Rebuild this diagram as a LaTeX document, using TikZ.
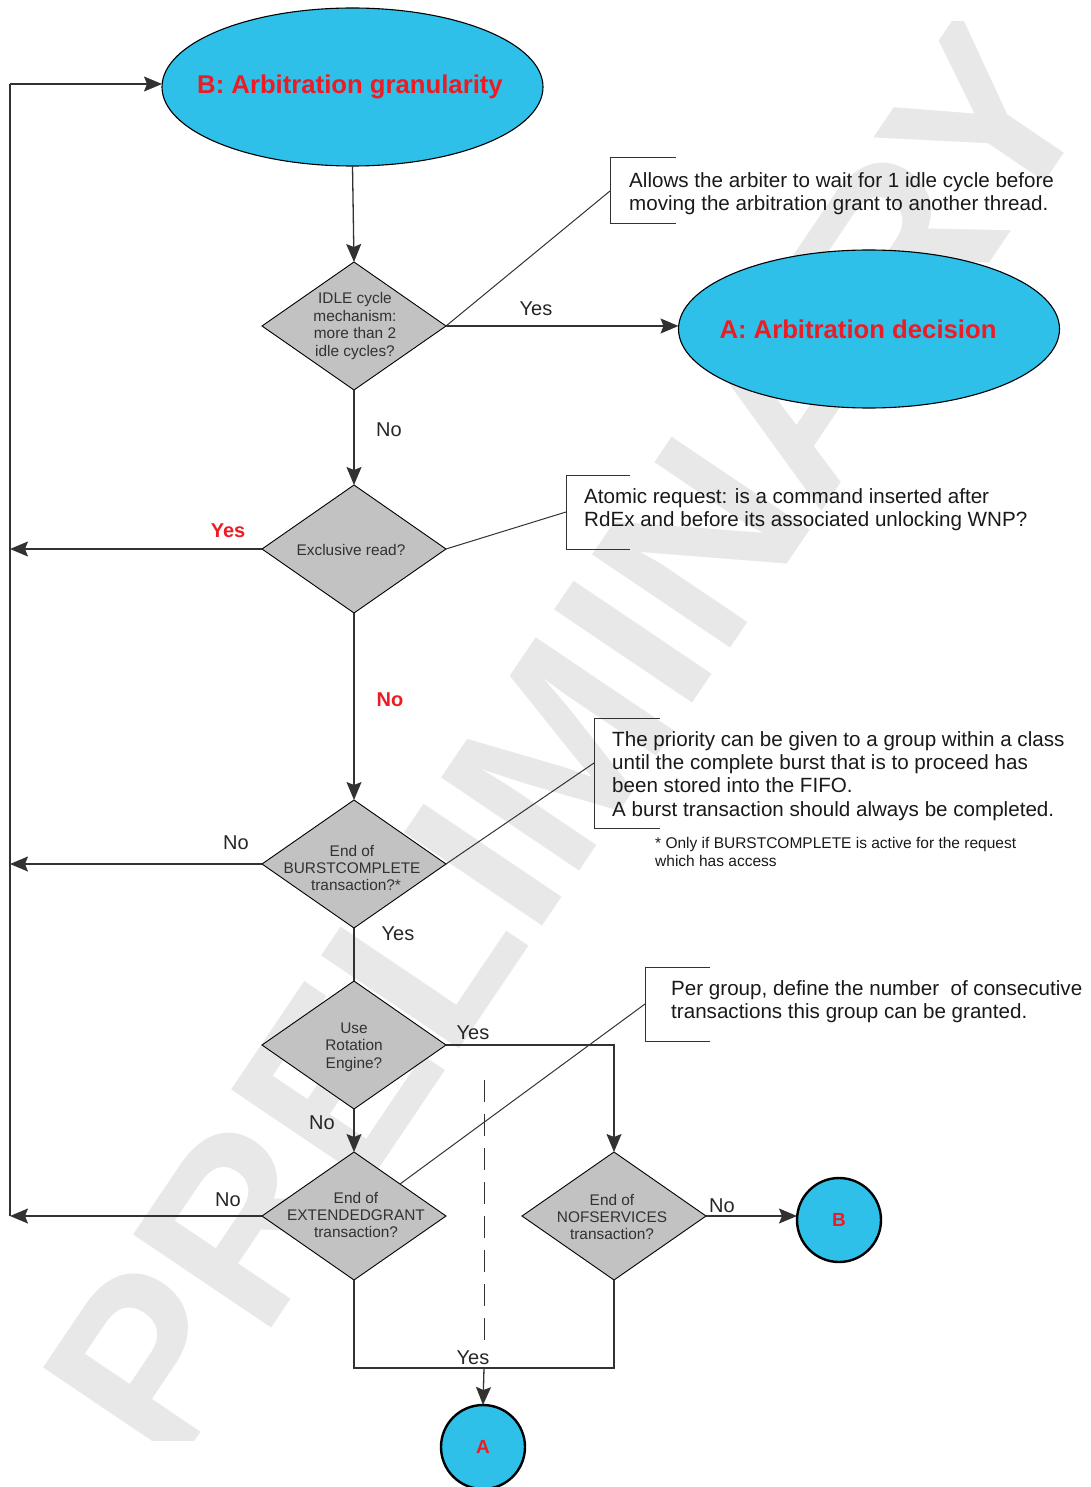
\documentclass[tikz,border=0pt]{standalone}
\usepackage{fontspec}
\setmainfont{Liberation Sans}
\usetikzlibrary{shapes.geometric,arrows.meta}
\definecolor{cyanfill}{RGB}{46,192,232}
\definecolor{redtxt}{RGB}{237,28,36}
\definecolor{dfill}{RGB}{194,194,194}
\definecolor{lin}{RGB}{50,50,50}
\definecolor{wm}{RGB}{232,232,232}
\definecolor{dtxt}{RGB}{50,50,50}
\begin{document}
\begin{tikzpicture}[x=1pt,y=-1pt,
  conn/.style={draw=lin,line width=1.3pt},
  arr/.style={conn,-{Stealth[length=18pt,width=15pt,inset=3pt]}},
  dec/.style={diamond,draw=black,line width=0.9pt,fill=dfill,minimum width=184pt,minimum height=128pt,inner sep=0pt,outer sep=0pt},
  dtext/.style={align=center,text=dtxt,font=\fontsize{15.4}{17.4}\selectfont,inner sep=0pt},
  bigell/.style={ellipse,draw=black,line width=1.1pt,fill=cyanfill,minimum width=381pt,minimum height=158pt,inner sep=0pt,outer sep=0pt},
  elltext/.style={text=redtxt,font=\fontsize{25.7}{30}\selectfont\bfseries,inner sep=0pt},
  conncirc/.style={circle,draw=black,line width=2.4pt,fill=cyanfill,minimum size=84pt,inner sep=0pt,outer sep=0pt,text=redtxt,font=\fontsize{19}{22}\selectfont\bfseries},
  lbl/.style={font=\fontsize{20}{22}\selectfont,text=black!85,inner sep=0pt},
  rlbl/.style={font=\fontsize{20}{22}\selectfont\bfseries,text=redtxt,inner sep=0pt},
  note/.style={align=left,anchor=west,font=\fontsize{20.6}{23.2}\selectfont,text=black!90,inner sep=0pt},
  brk/.style={draw=lin,line width=1pt}
]
\useasboundingbox (0,0) rectangle (1090,1487);
% watermark
\begin{scope}
\clip (41,22) rectangle (1063,1440);
\node[rotate=56,text=wm,font=\fontsize{242}{242}\selectfont\bfseries,inner sep=0pt] (wmk) at (567,741) {PRELIMINARY};
\end{scope}

% terminals
\node[bigell] (B) at (352.5,87) {};
\node[elltext] (Bt) at (350,87) {B: Arbitration granularity};
\node[bigell] (A) at (869,329) {};
\node[elltext] (At) at (858,329) {A: Arbitration decision};
\node[conncirc] (cB) at (839,1220) {B};
\node[conncirc] (cA) at (483,1447) {A};

% decisions
\node[dec] (idle) at (354,326) {};
\node[dtext] (idlet) at (355,326) {IDLE cycle\\mechanism:\\more than 2\\idle cycles?};
\node[dec] (excl) at (354,549) {};
\node[dtext] (exclt) at (351,550) {Exclusive read?};
\node[dec] (burst) at (354,864) {};
\node[dtext] (burstt) at (352,868) {End of\\BURSTCOMPLETE\\\hspace*{8pt}transaction?*};
\node[dec] (rot) at (354,1045) {};
\node[dtext] (rott) at (354,1047) {Use\\Rotation\\Engine?};
\node[dec] (ext) at (354,1216) {};
\node[dtext] (extt) at (356,1215) {End of\\EXTENDEDGRANT\\transaction?};
\node[dec] (nof) at (614,1216) {};
\node[dtext] (noft) at (612,1217) {End of\\NOFSERVICES\\transaction?};

% coordinates
\coordinate (LT) at (10,84);
\coordinate (LB) at (10,1216);
\coordinate (bl) at (354,1368);
\coordinate (br) at (614,1368);
\coordinate (bm) at (484,1368);
\coordinate (dtop) at (484,1080);
\coordinate (dbot) at (484,1345);

% main flow
\draw[arr] (B.south) -- (idle.north);
\draw[arr] (idle.east) -- (idle.east -| A.west);
\draw[arr] (idle.south) -- (excl.north);
\draw[arr] (excl.south) -- (burst.north);
\draw[conn] (burst.south) -- (rot.north);
\draw[arr] (rot.south) -- (ext.north);
\draw[arr] (rot.east) -| (nof.north);
\draw[arr] (nof.east) -- (nof.east -| cB.west);
\draw[conn] (ext.south) -- (bl) -- (br) -- (nof.south);
\draw[arr] (bm) -- (cA.north);
\draw[draw=lin,line width=1pt,dash pattern=on 22pt off 12pt] (dtop) -- (dbot);

% left return
\draw[conn] (LB) -- (LT);
\draw[arr] (LT) -- (LT -| B.west);
\draw[arr] (excl.west) -- (excl.west -| LT);
\draw[arr] (burst.west) -- (burst.west -| LT);
\draw[arr] (ext.west) -- (LB);

% labels
\node[lbl] (l1) at (536,309) {Yes};
\node[lbl] (l2) at (389,430) {No};
\node[rlbl] (l3) at (228,531) {Yes};
\node[rlbl] (l4) at (390,700) {No};
\node[lbl] (l5) at (236,843) {No};
\node[lbl] (l6) at (398,934) {Yes};
\node[lbl] (l7) at (473,1033) {Yes};
\node[lbl] (l8) at (322,1123) {No};
\node[lbl] (l9) at (228,1200) {No};
\node[lbl] (l10) at (722,1206) {No};
\node[lbl] (l11) at (473,1358) {Yes};

% annotations
\draw[brk] (676,158) -- (610,158) -- (610,224) -- (676,224);
\coordinate (n1) at (610,191);
\node[note] (t1) at (629,194) {Allows the arbiter to wait for 1 idle cycle before\\moving the arbitration grant to another thread.};
\draw[brk] (idle.east) -- (n1);

\draw[brk] (630,475) -- (566,475) -- (566,549) -- (630,549);
\coordinate (n2) at (566,512);
\node[note] (t2) at (584,510) {Atomic request: is a command inserted after\\RdEx and before its associated unlocking WNP?};
\draw[brk] (excl.east) -- (n2);

\draw[brk] (660,718) -- (594,718) -- (594,828) -- (660,828);
\coordinate (n3) at (594,763);
\node[note] (t3) at (612,776) {The priority can be given to a group within a class\\until the complete burst that is to proceed has\\been stored into the FIFO.\\A burst transaction should always be completed.};
\draw[brk] (burst.east) -- (n3);
\node[note,font=\fontsize{15.5}{18}\selectfont] (fn) at (655,852) {* Only if BURSTCOMPLETE is active for the request\\which has access};

\draw[brk] (710,967) -- (645,967) -- (645,1041) -- (710,1041);
\coordinate (n4) at (645,1004);
\node[note] (t4) at (671,1002) {Per group, define the number~ of consecutive\\transactions this group can be granted.};
\draw[brk] (n4) -- (ext.north east);
\end{tikzpicture}
\end{document}
